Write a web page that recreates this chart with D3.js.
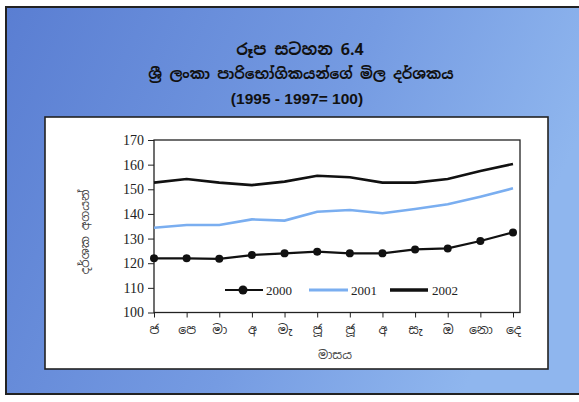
<!DOCTYPE html>
<html><head><meta charset="utf-8">
<script src="https://cdn.jsdelivr.net/npm/d3@7"></script>
<style>
html,body{margin:0;padding:0;background:#fff;}
svg{display:block;}
</style></head>
<body>
<svg id="c" width="579" height="402"></svg>
<script>
const months = ["ජ","පෙ","මා","අ","මැ","ජූ","ජූ","අ","සැ","ඔ","නො","දෙ"];
const v2000 = [122.0,122.0,121.8,123.3,124.0,124.7,124.0,124.0,125.6,126.0,129.0,132.5];
const v2001 = [134.4,135.5,135.5,137.8,137.3,140.9,141.6,140.3,142.0,143.9,147.0,150.4];
const v2002 = [152.7,154.2,152.7,151.7,153.1,155.5,154.9,152.7,152.7,154.2,157.4,160.3];
const yTicks = [100,110,120,130,140,150,160,170];
const seriesNames = ["2000","2001","2002"];
const titleLines = ["රූප සටහන  6.4","ශ්‍රී ලංකා පාරිභෝගිකයන්ගේ මිල දර්ශකය","(1995 - 1997= 100)"];
const yLabel = "දර්ශක අගයන්";
const xLabel = "මාසය";

const sinFont = "'Noto Sans Sinhala','Iskoola Pota','Noto Serif Sinhala',sans-serif";
const serif = "'Liberation Serif','DejaVu Serif',serif";
const svg = d3.select("#c");
const defs = svg.append("defs");
const g = defs.append("linearGradient").attr("id","bg").attr("x1","0").attr("x2","1").attr("y1","0").attr("y2","0.3");
g.append("stop").attr("offset","0").attr("stop-color","#5a7ed2");
g.append("stop").attr("offset","0.6").attr("stop-color","#759be2");
g.append("stop").attr("offset","1").attr("stop-color","#8fb6ee");

svg.append("rect").attr("x",6).attr("y",7).attr("width",579).attr("height",387)
  .attr("fill","url(#bg)").attr("stroke","#222").attr("stroke-width",2);

svg.append("rect").attr("x",45).attr("y",117).attr("width",503).attr("height",252)
  .attr("fill","#fff").attr("stroke","#222").attr("stroke-width",1.6);

const tl = svg.append("g").attr("font-family",sinFont).attr("font-weight","bold").attr("fill","#111").attr("text-anchor","middle");
tl.append("text").attr("x",300).attr("y",55).attr("font-size",16).text(titleLines[0]);
tl.append("text").attr("x",301).attr("y",79).attr("font-size",14.5).text(titleLines[1]);
tl.append("text").attr("x",297).attr("y",104).attr("font-size",15.5).attr("font-family","Arial,'Liberation Sans',sans-serif").text(titleLines[2]);

const L=154, R=520, T=140, B=312.5;
const x = d3.scalePoint().domain(d3.range(12)).range([L,513]);
const y = d3.scaleLinear().domain([100,170]).range([B,T]);

svg.append("rect").attr("x",L).attr("y",T).attr("width",R-L).attr("height",B-T)
  .attr("fill","none").attr("stroke","#222").attr("stroke-width",1.3);

const yAx = svg.append("g").attr("transform",`translate(${L},0)`)
  .call(d3.axisLeft(y).tickValues(yTicks).tickSize(6).tickPadding(4));
yAx.attr("font-family",serif);
yAx.select(".domain").remove();
yAx.selectAll("line").attr("stroke","#222");
yAx.selectAll("text").style("font-family",serif).attr("font-size",14).attr("fill","#222");

const xAx = svg.append("g").attr("transform",`translate(0,${B})`)
  .call(d3.axisBottom(x).tickSize(5).tickPadding(8).tickFormat(i=>months[i]));
xAx.attr("font-family",sinFont);
xAx.select(".domain").remove();
xAx.selectAll("line").attr("stroke","#222");
xAx.selectAll("text").attr("font-size",12.5).attr("fill","#333");

const line = d3.line().x((d,i)=>x(i)).y(d=>y(d));
svg.append("path").datum(v2002).attr("d",line).attr("fill","none").attr("stroke","#111").attr("stroke-width",2.6);
svg.append("path").datum(v2001).attr("d",line).attr("fill","none").attr("stroke","#7aaef0").attr("stroke-width",2.6);
svg.append("path").datum(v2000).attr("d",line).attr("fill","none").attr("stroke","#111").attr("stroke-width",2.2);
svg.append("g").selectAll("circle").data(v2000).join("circle")
  .attr("cx",(d,i)=>x(i)).attr("cy",d=>y(d)).attr("r",4).attr("fill","#111");

// legend
const ly = 290;
const leg = svg.append("g").style("font-family",serif).attr("font-size",13).attr("fill","#222");
leg.append("line").attr("x1",225).attr("x2",263).attr("y1",ly).attr("y2",ly).attr("stroke","#111").attr("stroke-width",2.2);
leg.append("circle").attr("cx",243).attr("cy",ly).attr("r",4.5).attr("fill","#111");
leg.append("text").attr("x",266).attr("y",ly+4.5).text(seriesNames[0]);
leg.append("line").attr("x1",309).attr("x2",348).attr("y1",ly).attr("y2",ly).attr("stroke","#7aaef0").attr("stroke-width",3);
leg.append("text").attr("x",351).attr("y",ly+4.5).text(seriesNames[1]);
leg.append("line").attr("x1",390).attr("x2",428).attr("y1",ly).attr("y2",ly).attr("stroke","#111").attr("stroke-width",3.5);
leg.append("text").attr("x",432).attr("y",ly+4.5).text(seriesNames[2]);

svg.append("text").attr("transform","translate(89,232) rotate(-90)").attr("text-anchor","middle")
  .attr("font-family",sinFont).attr("font-size",12).attr("fill","#444").text(yLabel);
svg.append("text").attr("x",335).attr("y",359).attr("text-anchor","middle")
  .attr("font-family",sinFont).attr("font-size",12).attr("fill","#444").text(xLabel);
</script>
</body></html>
